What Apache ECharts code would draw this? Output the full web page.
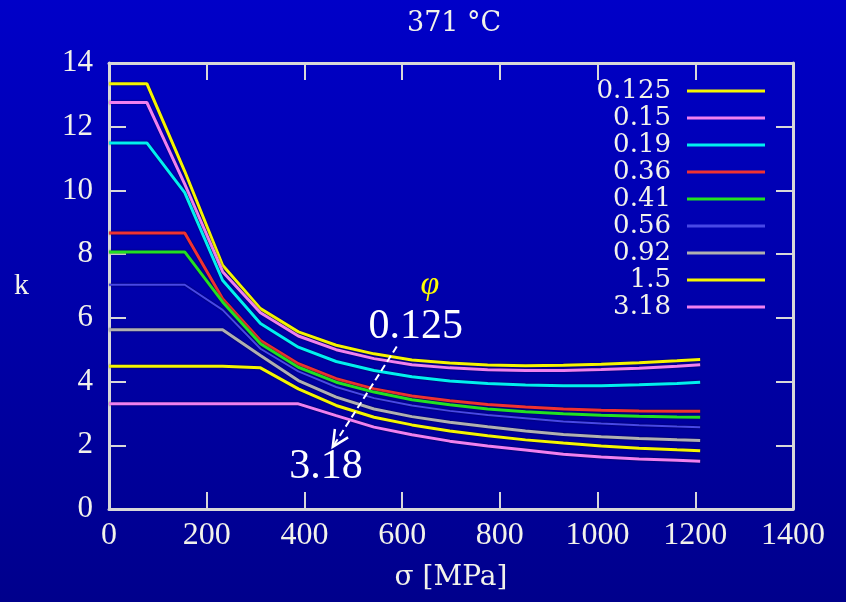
<!DOCTYPE html>
<html>
<head>
<meta charset="utf-8">
<script src="https://cdn.jsdelivr.net/npm/echarts@6/dist/echarts.min.js"></script>
<style>
  html, body { margin: 0; padding: 0; background: #0000aa; }
  #chart { width: 846px; height: 602px; }
</style>
</head>
<body>
<div id="chart"></div>
<script>
// ---- data ----
const titleText = '371 °C';
const xName = 'σ [MPa]';
const yName = 'k';
const sigma = [0, 77.5, 155, 232.5, 310, 387.5, 465, 542.5, 620, 697.5, 775, 852.5, 930, 1007.5, 1085, 1162.5, 1210];
const phiNames = ['0.125', '0.15', '0.19', '0.36', '0.41', '0.56', '0.92', '1.5', '3.18'];
const k_0125 = [13.35, 13.35, 10.6, 7.65, 6.29, 5.56, 5.14, 4.87, 4.68, 4.58, 4.52, 4.50, 4.51, 4.54, 4.59, 4.65, 4.69];
const k_015  = [12.76, 12.76, 10.2, 7.45, 6.16, 5.43, 5.00, 4.72, 4.53, 4.43, 4.37, 4.35, 4.35, 4.38, 4.42, 4.48, 4.53];
const k_019  = [11.49, 11.49, 9.93, 7.18, 5.82, 5.08, 4.63, 4.35, 4.15, 4.02, 3.94, 3.89, 3.87, 3.87, 3.90, 3.94, 3.98];
const k_036  = [8.66, 8.66, 8.66, 6.60, 5.29, 4.56, 4.09, 3.77, 3.55, 3.40, 3.28, 3.20, 3.14, 3.10, 3.08, 3.07, 3.07];
const k_041  = [8.07, 8.07, 8.07, 6.50, 5.19, 4.45, 3.98, 3.67, 3.43, 3.27, 3.14, 3.05, 2.99, 2.94, 2.91, 2.89, 2.88];
const k_056  = [7.04, 7.04, 7.04, 6.25, 5.03, 4.32, 3.83, 3.48, 3.25, 3.08, 2.95, 2.85, 2.75, 2.68, 2.63, 2.59, 2.57];
const k_092  = [5.63, 5.63, 5.63, 5.63, 4.82, 4.03, 3.51, 3.14, 2.90, 2.72, 2.58, 2.45, 2.34, 2.27, 2.21, 2.17, 2.15];
const k_15   = [4.48, 4.48, 4.48, 4.48, 4.43, 3.77, 3.25, 2.88, 2.64, 2.45, 2.30, 2.17, 2.07, 1.98, 1.91, 1.86, 1.83];
const k_318  = [3.30, 3.30, 3.30, 3.30, 3.30, 3.30, 2.93, 2.57, 2.33, 2.13, 1.98, 1.85, 1.72, 1.63, 1.57, 1.53, 1.50];
const seriesValues = [k_0125, k_015, k_019, k_036, k_041, k_056, k_092, k_15, k_318];
const xTicks = { min: 0, max: 1400, interval: 200 };
const yTicks = { min: 0, max: 14, interval: 2 };
// annotation anchors (data coordinates)
const phiAnchor = [657, 7.04];
const topLabelAnchor = [628, 5.70];
const bottomLabelAnchor = [444, 1.33];
const arrowFrom = [589, 5.10];
const arrowTo = [458, 1.95];

// ---- styles ----
const colors = ['#f5f500', '#f080f0', '#00f0f0', '#f03232', '#22e022', '#4848e6', '#b0b0b0', '#f5f500', '#f080f0'];
const widths = [3, 3, 3, 3, 3, 2, 3, 3, 3];
const frameColor = '#d8d8d8';
const textColor = '#f2f2ea';

const chart = echarts.init(document.getElementById('chart'), null, { renderer: 'canvas' });

const series = phiNames.map((name, i) => {
  const s = {
    name: name,
    type: 'line',
    data: sigma.map((x, j) => [x, seriesValues[i][j]]),
    showSymbol: false,
    symbol: 'none',
    smooth: false,
    lineStyle: { color: colors[i], width: widths[i], shadowColor: 'rgba(0,0,0,0.55)', shadowBlur: 2 },
    itemStyle: { color: colors[i] },
    emphasis: { disabled: true },
    silent: true,
    z: 3
  };
  if (i === phiNames.length - 1) {
    s.markLine = {
      silent: true,
      symbol: ['none', 'none'],
      label: { show: false },
      lineStyle: { color: '#ffffff', type: [7, 4], width: 2 },
      emphasis: { disabled: true },
      data: [[{ coord: arrowFrom }, { coord: arrowTo }]]
    };
  }
  return s;
});

const axisCommon = {
  type: 'value',
  axisLine: { show: true, onZero: false, lineStyle: { color: frameColor, width: 3 } },
  axisTick: { show: true, inside: true, length: 17, lineStyle: { color: frameColor, width: 2 } },
  splitLine: { show: false }
};

const plainNum = v => String(v);

const option = {
  backgroundColor: {
    type: 'linear', x: 0, y: 0, x2: 0, y2: 1,
    colorStops: [{ offset: 0, color: '#0000c8' }, { offset: 1, color: '#00008c' }]
  },
  animation: false,
  title: {
    text: titleText,
    left: 402,
    top: 5,
    textStyle: { fontFamily: 'DejaVu Serif', fontSize: 27, fontWeight: 'normal', color: textColor }
  },
  grid: { left: 109, right: 53, top: 63, bottom: 93, containLabel: false },
  legend: {
    data: phiNames,
    orient: 'vertical',
    align: 'right',
    right: 81,
    top: 78,
    padding: 0,
    itemGap: 1,
    itemWidth: 78,
    itemHeight: 3,
    icon: 'rect',
    selectedMode: false,
    textStyle: { fontFamily: 'DejaVu Serif', fontSize: 26, color: textColor, lineHeight: 20, padding: [0, 11, 0, 0] }
  },
  xAxis: [
    Object.assign({}, axisCommon, {
      position: 'bottom',
      min: xTicks.min, max: xTicks.max, interval: xTicks.interval,
      name: xName, nameLocation: 'middle', nameGap: 55,
      nameTextStyle: { fontFamily: 'DejaVu Serif', fontSize: 28, color: textColor },
      axisLabel: { fontFamily: 'Liberation Serif', fontSize: 32, color: textColor, margin: 11, formatter: plainNum }
    }),
    Object.assign({}, axisCommon, {
      position: 'top',
      min: xTicks.min, max: xTicks.max, interval: xTicks.interval,
      axisLabel: { show: false }
    })
  ],
  yAxis: [
    Object.assign({}, axisCommon, {
      position: 'left',
      min: yTicks.min, max: yTicks.max, interval: yTicks.interval,
      name: yName, nameLocation: 'middle', nameGap: 80, nameRotate: 0,
      nameTextStyle: { fontFamily: 'Liberation Serif', fontSize: 30, color: textColor },
      axisLabel: { fontFamily: 'Liberation Serif', fontSize: 31, color: textColor, margin: 16, formatter: plainNum }
    }),
    Object.assign({}, axisCommon, {
      position: 'right',
      min: yTicks.min, max: yTicks.max, interval: yTicks.interval,
      axisLabel: { show: false }
    })
  ],
  series: series
};

chart.setOption(option);

function px(pt) { return chart.convertToPixel({ gridIndex: 0 }, pt); }
const pPhi = px(phiAnchor), pTop = px(topLabelAnchor), pBot = px(bottomLabelAnchor);
const a0 = px(arrowFrom), a1 = px(arrowTo);
const ang = Math.atan2(a0[1] - a1[1], a0[0] - a1[0]);   // direction from tip back toward tail
const headLen = 18, spread = 0.45;
const arm1 = [a1[0] + headLen * Math.cos(ang + spread), a1[1] + headLen * Math.sin(ang + spread)];
const arm2 = [a1[0] + headLen * Math.cos(ang - spread), a1[1] + headLen * Math.sin(ang - spread)];

chart.setOption({
  graphic: [
    { type: 'polyline', z: 10, silent: true,
      shape: { points: [arm1, a1, arm2] },
      style: { stroke: '#ffffff', lineWidth: 2.5, fill: null, lineJoin: 'miter' } },
    { type: 'text', x: pPhi[0], y: pPhi[1], z: 10, silent: true,
      style: { text: 'φ', fill: '#ffff00', font: 'italic 34px "Liberation Serif"', align: 'center', verticalAlign: 'middle' } },
    { type: 'text', x: pTop[0], y: pTop[1], z: 10, silent: true,
      style: { text: phiNames[0], fill: '#ffffff', font: '42px "Liberation Serif"', align: 'center', verticalAlign: 'middle' } },
    { type: 'text', x: pBot[0], y: pBot[1], z: 10, silent: true,
      style: { text: phiNames[phiNames.length - 1], fill: '#ffffff', font: '42px "Liberation Serif"', align: 'center', verticalAlign: 'middle' } }
  ]
});
</script>
</body>
</html>
